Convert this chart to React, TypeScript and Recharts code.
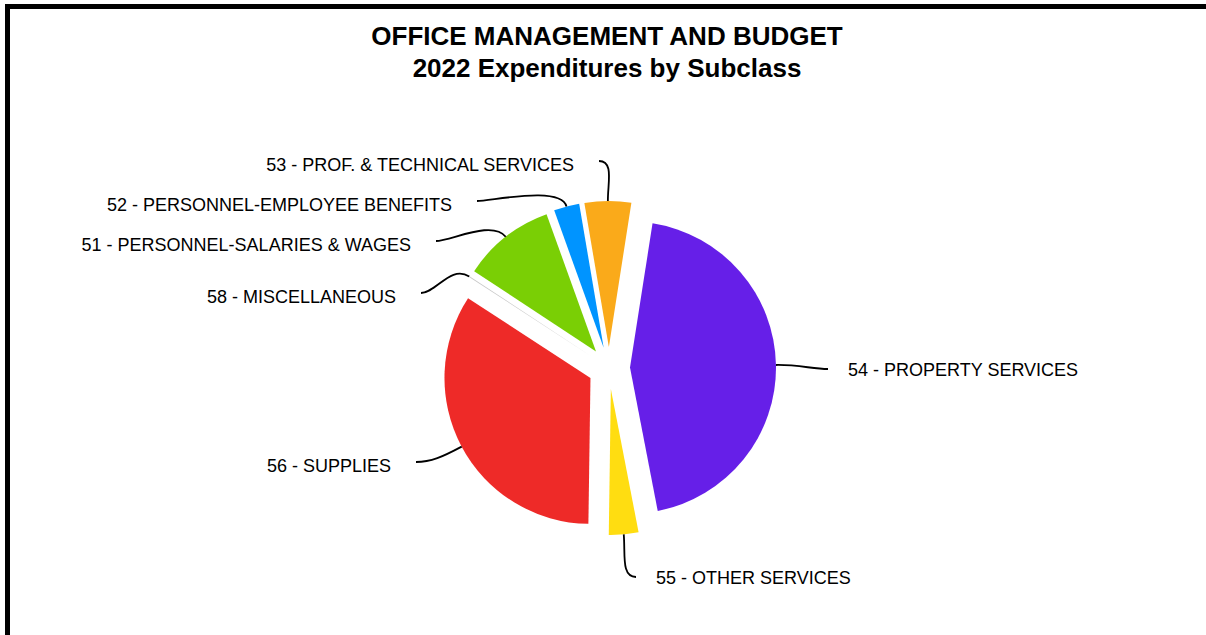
import { PieChart, Pie, Cell, Sector } from 'recharts'

const CATEGORIES = [
  '51 - PERSONNEL-SALARIES & WAGES',
  '52 - PERSONNEL-EMPLOYEE BENEFITS',
  '53 - PROF. & TECHNICAL SERVICES',
  '54 - PROPERTY SERVICES',
  '55 - OTHER SERVICES',
  '56 - SUPPLIES',
  '58 - MISCELLANEOUS',
]

// share of 2022 expenditures, percent
const VALUES = [10.22, 2.82, 5.15, 44.49, 3.27, 33.94, 0.11]

const COLORS = ['#7ACF05', '#0094FF', '#FAAA1A', '#661FE8', '#FFDD11', '#EE2A28', '#c8c8c8']

// where each label's text sits: x is text end (side -1) or start (side 1), y is text middle
const LABEL_X = [411, 452, 574, 848, 656, 391, 396]
const LABEL_Y = [245, 205, 165, 370, 578, 466, 297]
const LABEL_SIDE = [-1, -1, -1, 1, 1, -1, -1]

const RAD = Math.PI / 180
const EXPLODE = 21
const FONT = '"Liberation Sans", Arial, Helvetica, sans-serif'

const data = CATEGORIES.map((name, i) => ({ name, value: VALUES[i] }))

function explodeOffset(midAngle: number) {
  return { dx: EXPLODE * Math.cos(-midAngle * RAD), dy: EXPLODE * Math.sin(-midAngle * RAD) }
}

function ExplodedSector(props: any) {
  const { dx, dy } = explodeOffset(props.midAngle)
  return <Sector {...props} cx={props.cx + dx} cy={props.cy + dy} />
}

function renderLabel(props: any) {
  const { cx, cy, midAngle, outerRadius, index } = props
  const { dx, dy } = explodeOffset(midAngle)
  const ux = Math.cos(-midAngle * RAD)
  const uy = Math.sin(-midAngle * RAD)
  const x0 = cx + dx + outerRadius * ux
  const y0 = cy + dy + outerRadius * uy
  const side = LABEL_SIDE[index]
  const tx = LABEL_X[index]
  const ty = LABEL_Y[index]
  const ex = side < 0 ? tx + 25 : tx - 20
  const ey = side < 0 ? ty - 4 : ty - 1
  const dist = Math.hypot(ex - x0, ey - y0)
  const k = Math.min(22, dist * 0.45)
  const c1x = x0 + ux * k
  const c1y = y0 + uy * k
  const c2x = ex - side * 15
  const c2y = ey
  return (
    <g key={`lbl-${index}`}>
      <path
        d={`M${x0},${y0} C${c1x},${c1y} ${c2x},${c2y} ${ex},${ey}`}
        stroke="#000"
        strokeWidth={1.8}
        fill="none"
      />
      <text
        x={tx}
        y={ty + 6}
        textAnchor={side < 0 ? 'end' : 'start'}
        fontFamily={FONT}
        fontSize={18}
        fill="#000"
      >
        {CATEGORIES[index]}
      </text>
    </g>
  )
}

export default function App() {
  return (
    <div
      style={{
        position: 'absolute',
        left: 0,
        top: 0,
        width: 1206,
        height: 635,
        overflow: 'hidden',
        background: '#fff',
      }}
    >
      <div
        style={{
          position: 'absolute',
          left: 5,
          top: 4,
          width: 1400,
          height: 800,
          border: '5px solid #000',
          boxSizing: 'border-box',
        }}
      />
      <div
        style={{
          position: 'absolute',
          left: 0,
          width: 1214,
          top: 20,
          textAlign: 'center',
          fontFamily: FONT,
          fontWeight: 'bold',
          fontSize: 26,
          lineHeight: '32px',
          color: '#000',
        }}
      >
        <div>OFFICE MANAGEMENT AND BUDGET</div>
        <div>2022 Expenditures by Subclass</div>
      </div>
      <div style={{ position: 'absolute', left: 0, top: 0 }}>
        <PieChart width={1206} height={635} margin={{ top: 0, right: 0, bottom: 0, left: 0 }}>
          <Pie
            data={data}
            dataKey="value"
            nameKey="name"
            cx={609}
            cy={368}
            outerRadius={146}
            startAngle={146.6}
            endAngle={-213.4}
            stroke="none"
            isAnimationActive={false}
            labelLine={false}
            label={renderLabel}
            shape={ExplodedSector}
            activeShape={ExplodedSector}
            inactiveShape={ExplodedSector}
          >
            {data.map((d, i) => (
              <Cell key={d.name} fill={COLORS[i]} />
            ))}
          </Pie>
        </PieChart>
      </div>
    </div>
  )
}
